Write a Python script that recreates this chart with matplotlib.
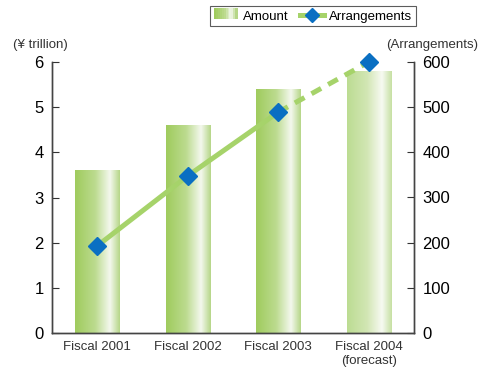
import matplotlib.pyplot as plt
import numpy as np
from matplotlib.colors import LinearSegmentedColormap
from matplotlib.patches import Patch, Rectangle
from matplotlib.lines import Line2D
from matplotlib.legend_handler import HandlerBase

plt.rcParams['font.family'] = ['Liberation Sans', 'DejaVu Sans']

# data
categories = ['Fiscal 2001', 'Fiscal 2002', 'Fiscal 2003', 'Fiscal 2004\n(forecast)']
amount = [3.6, 4.6, 5.4, 5.8]          # yen trillion
arrangements = [193, 348, 489, 600]     # number of arrangements

fig = plt.figure(figsize=(4.9, 3.71), dpi=100)
ax = fig.add_axes([52/490, 1 - 333/371, (414-52)/490, (333-62)/371])
ax2 = ax.twinx()

# gradient bars
grad = LinearSegmentedColormap.from_list('g', [(0.0, '#9fcb5d'), (0.45, '#bcdb8f'),
                                                (0.78, '#f4f8ee'), (1.0, '#b5d687')])
grad_fc = LinearSegmentedColormap.from_list('g2', [(0.0, '#bcdc92'), (0.45, '#d2e6b4'),
                                                   (0.78, '#f7faf2'), (1.0, '#c6e0a2')])
g = np.linspace(0, 1, 256).reshape(1, -1)
w = 0.49
x = np.arange(len(categories))
for i, h in enumerate(amount):
    cm = grad_fc if i == 3 else grad
    ax.imshow(g, cmap=cm, extent=[x[i] - w/2, x[i] + w/2, 0, h],
              aspect='auto', zorder=1, interpolation='bicubic')

ax.set_xlim(-0.5, 3.5)
ax.set_ylim(0, 6)
ax2.set_ylim(0, 600)
ax.set_xticks(x)
ax.set_xticklabels(categories, fontsize=9.5, color='#333333')
ax.tick_params(axis='x', length=0, pad=6)
ax.set_yticks(range(7))
ax.tick_params(axis='y', direction='in', length=5, labelsize=12, pad=6, color='#333333')
ax2.set_yticks(range(0, 601, 100))
ax2.tick_params(axis='y', direction='in', length=5, labelsize=12, pad=6, color='#333333')
for a in (ax, ax2):
    a.spines['top'].set_visible(False)
    for s in ('left', 'right', 'bottom'):
        a.spines[s].set_color('#444444')
        a.spines[s].set_linewidth(1.0)

# arrangements line
lc = '#a6d36a'
ax2.plot(x[:3], arrangements[:3], color=lc, lw=3.6, zorder=3, solid_capstyle='butt')
ax2.plot(x[2:], arrangements[2:], color=lc, lw=3.6, ls=(0, (2.2, 1.6)), zorder=3)
ax2.plot(x, arrangements, ls='none', marker='D', ms=9.5, color='#0a6fc2',
         markeredgecolor='#0a6fc2', zorder=4, clip_on=False)

fig.text(40/490, 1 - 45/371, '(¥ trillion)', ha='center', va='center', fontsize=9.5, color='#333333')
fig.text(432/490, 1 - 45/371, '(Arrangements)', ha='center', va='center', fontsize=9.5, color='#333333')


class GradHandler(HandlerBase):
    def create_artists(self, legend, orig, xd, yd, width, height, fontsize, trans):
        arts = []
        n = 12
        for k in range(n):
            c = grad(k / (n - 1))
            arts.append(Rectangle((xd + width * k / n, yd), width / n + 0.3, height,
                                  facecolor=c, edgecolor='none', transform=trans))
        return arts


handles = [Patch(facecolor='#b0d47a', edgecolor='none'),
           Line2D([0], [0], color=lc, lw=3.6, marker='D', ms=7, markerfacecolor='#0a6fc2',
                  markeredgecolor='#0a6fc2')]
leg = fig.legend(handles, ['Amount', 'Arrangements'], loc='center', ncol=2,
                 bbox_to_anchor=(313/490, 1 - 16/371), fontsize=9.5, frameon=True,
                 fancybox=False, edgecolor='#333333', borderpad=0.25, handlelength=1.8,
                 handletextpad=0.4, columnspacing=0.9, handleheight=0.9,
                 handler_map={Patch: GradHandler()})
leg.get_frame().set_linewidth(0.8)

fig.savefig('out.png', dpi=100)
